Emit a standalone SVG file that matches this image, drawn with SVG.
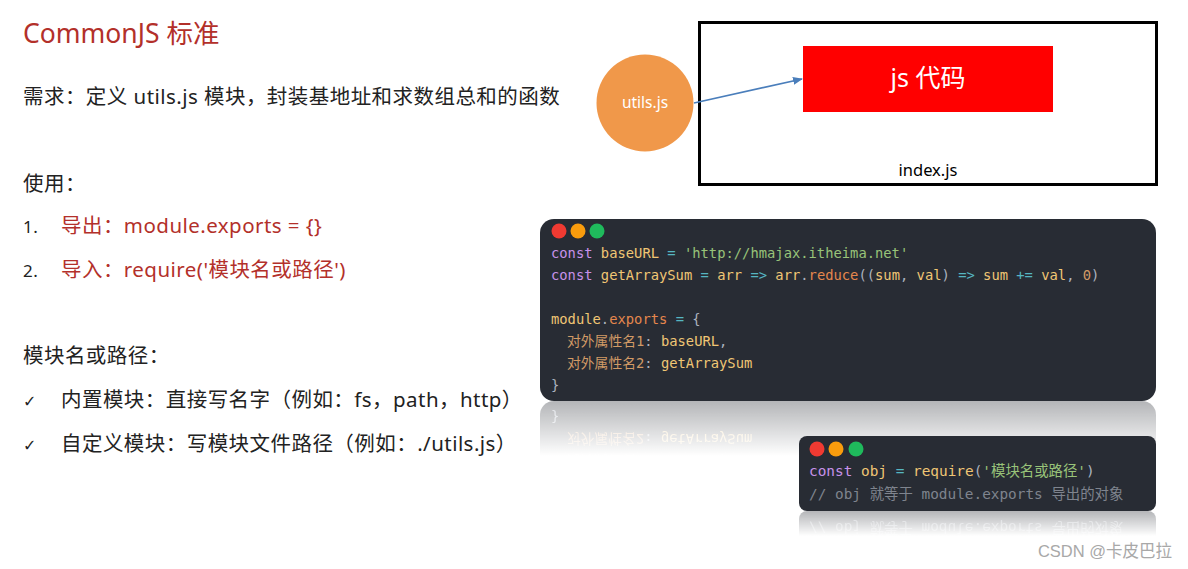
<svg xmlns="http://www.w3.org/2000/svg" xmlns:xlink="http://www.w3.org/1999/xlink" width="1188" height="569" viewBox="0 0 1188 569">
<style>
.t{font-family:"Noto Sans","Noto Sans CJK SC",sans-serif;font-size:20.5px;fill:#222;letter-spacing:0.45px}
.r{fill:#b3302a}
.m{font-family:"DejaVu Sans Mono","Noto Sans CJK SC",monospace;font-size:13.8px;fill:#abb2bf}
.kw{fill:#c792ea}
.v{fill:#f0c674}
.op{fill:#56b6c2}
.s{fill:#98c379}
.fn{fill:#e5874d}
.cn{fill:#d19a66}
.cm{fill:#7f848e}
.bg{fill:#282c34}
</style>
<defs>
<marker id="ah" markerWidth="10" markerHeight="8" refX="9" refY="4" orient="auto" markerUnits="userSpaceOnUse">
<path d="M0,0 L10,4 L0,8 Z" fill="#4a7ebb"/>
</marker>
<linearGradient id="g1" x1="0" y1="0" x2="0" y2="1">
<stop offset="0" stop-color="#fff" stop-opacity="0.35"/>
<stop offset="1" stop-color="#fff" stop-opacity="0"/>
</linearGradient>
<mask id="m1" maskUnits="userSpaceOnUse" x="530" y="401" width="640" height="55">
<rect x="530" y="401" width="640" height="55" fill="url(#g1)"/>
</mask>
<mask id="m2" maskUnits="userSpaceOnUse" x="790" y="511" width="380" height="25">
<rect x="790" y="511" width="380" height="25" fill="url(#g1)"/>
</mask>
</defs>
<rect width="1188" height="569" fill="#fff"/>

<g id="left-text">
<text class="t r" x="23" y="43" style="font-size:26.5px;letter-spacing:0">CommonJS 标准</text>
<text class="t" x="23" y="104">需求：定义 utils.js 模块，封装基地址和求数组总和的函数</text>
<text class="t" x="23" y="191">使用：</text>
<text class="t" x="23" y="233" style="font-size:17px">1.</text>
<text class="t r" x="61" y="233">导出：module.exports = {}</text>
<text class="t" x="23" y="277" style="font-size:17px">2.</text>
<text class="t r" x="61" y="277">导入：require('模块名或路径')</text>
<text class="t" x="23" y="363">模块名或路径：</text>
<text class="t" x="23" y="407" style="font-size:16px;font-family:'DejaVu Sans',sans-serif">✓</text>
<text class="t" x="61" y="407">内置模块：直接写名字（例如：fs，path，http）</text>
<text class="t" x="23" y="451" style="font-size:16px;font-family:'DejaVu Sans',sans-serif">✓</text>
<text class="t" x="61" y="451">自定义模块：写模块文件路径（例如：./utils.js）</text>
</g>

<g id="index-js">
<rect x="699.5" y="22.5" width="457" height="162" fill="#fff" stroke="#000" stroke-width="3"/>
<text x="928" y="176" text-anchor="middle" style="font-family:'Noto Sans',sans-serif;font-size:16.5px;fill:#000">index.js</text>
</g>
<g id="js-code">
<rect x="803" y="46" width="250" height="66" fill="#ff0000"/>
<text x="928" y="87" text-anchor="middle" style="font-family:'Noto Sans','Noto Sans CJK SC',sans-serif;font-size:25px;fill:#fff">js 代码</text>
</g>
<g id="utils-js">
<circle cx="645" cy="103" r="48.5" fill="#f0984a"/>
<text x="645" y="108" text-anchor="middle" style="font-family:'Noto Sans',sans-serif;font-size:15.5px;fill:#fff">utils.js</text>
</g>
<g id="connectors">
<line x1="694" y1="103" x2="802" y2="79" stroke="#4a7ebb" stroke-width="1.6" marker-end="url(#ah)"/>
</g>

<g id="code1">
<rect class="bg" x="540" y="219" width="616" height="182" rx="14"/>
<circle cx="559" cy="231" r="7.5" fill="#f03a32"/>
<circle cx="578" cy="231" r="7.5" fill="#f99c0d"/>
<circle cx="597" cy="231" r="7.5" fill="#1fba5c"/>
<text class="m" x="551" y="258" xml:space="preserve"><tspan class="kw">const</tspan> <tspan class="v">baseURL</tspan> <tspan class="op">=</tspan> <tspan class="s">'http://hmajax.itheima.net'</tspan></text>
<text class="m" x="551" y="280" xml:space="preserve"><tspan class="kw">const</tspan> <tspan class="v">getArraySum</tspan> <tspan class="op">=</tspan> <tspan class="v">arr</tspan> <tspan class="op">=&gt;</tspan> <tspan class="v">arr</tspan>.<tspan class="fn">reduce</tspan>((<tspan class="v">sum</tspan>, <tspan class="v">val</tspan>) <tspan class="op">=&gt;</tspan> <tspan class="v">sum</tspan> <tspan class="op">+=</tspan> <tspan class="v">val</tspan>, <tspan class="cn">0</tspan>)</text>
<text class="m" x="551" y="324" xml:space="preserve"><tspan class="v">module</tspan>.<tspan class="fn">exports</tspan> <tspan class="op">=</tspan> {</text>
<text class="m" x="567" y="346" xml:space="preserve"><tspan class="cn">对外属性名1</tspan>: <tspan class="v">baseURL</tspan>,</text>
<text class="m" x="567" y="368" xml:space="preserve"><tspan class="cn">对外属性名2</tspan>: <tspan class="v">getArraySum</tspan></text>
<text class="m" x="551" y="390">}</text>
</g>
<g id="code1-reflection" mask="url(#m1)">
<use xlink:href="#code1" transform="translate(0,802) scale(1,-1)"/>
</g>

<g id="code2">
<rect class="bg" x="799" y="436" width="357" height="75" rx="8"/>
<circle cx="817" cy="449" r="7.5" fill="#f03a32"/>
<circle cx="836" cy="449" r="7.5" fill="#f99c0d"/>
<circle cx="856" cy="449" r="7.5" fill="#1fba5c"/>
<text class="m" x="809" y="476" xml:space="preserve" style="font-size:14.4px"><tspan class="kw">const</tspan> <tspan class="v">obj</tspan> <tspan class="op">=</tspan> <tspan class="v">require</tspan>(<tspan class="s">'模块名或路径'</tspan>)</text>
<text class="m cm" x="809" y="499" xml:space="preserve" style="font-size:14.4px">// obj 就等于 module.exports 导出的对象</text>
</g>
<g id="code2-reflection" mask="url(#m2)">
<use xlink:href="#code2" transform="translate(0,1022) scale(1,-1)"/>
</g>

<text x="1172" y="557" text-anchor="end" style="font-family:'Liberation Sans','Noto Sans CJK SC',sans-serif;font-size:16.5px;fill:#a8a8a8">CSDN @卡皮巴拉</text>
</svg>
